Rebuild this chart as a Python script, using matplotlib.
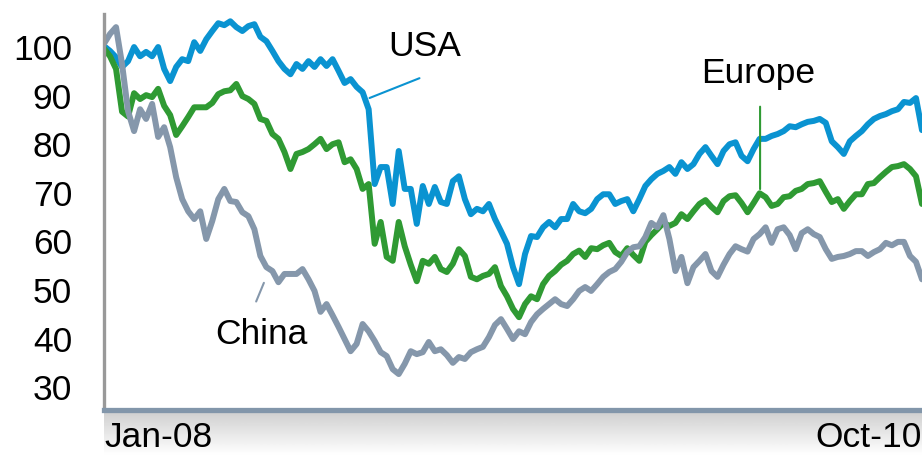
import numpy as np
import matplotlib
matplotlib.use("Agg")
import matplotlib.pyplot as plt

# indexed performance, Jan-08 = 100 (one value every ~1/4 month)
usa = [100.0, 99.0, 97.7, 95.7, 96.9, 99.8, 97.9, 98.8, 97.9, 99.8,
       95.3, 92.8, 95.7, 97.3, 96.9, 100.8, 99.0, 101.4, 103.1, 104.7,
       104.3, 105.1, 103.9, 103.1, 104.1, 104.5, 101.9, 101.0, 99.0, 96.9,
       95.3, 94.2, 96.3, 95.3, 96.9, 95.7, 97.3, 95.9, 97.3, 94.9,
       92.4, 93.2, 91.6, 90.5, 87.0, 71.6, 75.1, 75.1, 67.5, 78.4,
       70.6, 70.6, 63.4, 71.2, 67.5, 71.0, 67.9, 67.5, 72.2, 73.2,
       68.5, 65.4, 66.5, 66.0, 67.5, 64.4, 61.9, 59.3, 54.5, 51.0,
       57.2, 60.9, 60.7, 62.7, 63.8, 62.7, 64.4, 64.4, 67.5, 66.0,
       65.6, 66.5, 68.5, 69.5, 69.5, 67.5, 68.1, 68.5, 66.0, 68.5,
       71.2, 72.6, 73.7, 74.3, 75.1, 73.7, 76.1, 74.7, 75.7, 77.8,
       79.2, 77.4, 75.7, 78.4, 79.8, 80.2, 77.4, 76.3, 78.8, 80.9,
       80.9, 81.5, 81.9, 82.5, 83.5, 83.3, 83.9, 84.4, 84.6, 85.0,
       84.2, 80.4, 79.2, 77.8, 80.4, 81.5, 82.5, 83.9, 85.0, 85.6,
       86.0, 86.6, 87.0, 88.5, 88.3, 89.3, 82.7]

europe = [99.5, 97.9, 95.3, 86.5, 85.5, 90.3, 89.1, 89.9, 89.5, 91.2,
          87.7, 85.8, 81.7, 83.5, 85.4, 87.4, 87.4, 87.4, 88.3, 90.1,
          90.7, 90.9, 92.2, 89.7, 89.1, 88.1, 85.0, 84.6, 81.9, 80.9,
          78.2, 74.7, 77.8, 78.2, 78.8, 79.8, 80.9, 78.8, 79.8, 80.2,
          76.1, 76.7, 74.7, 70.6, 71.6, 59.3, 63.8, 56.6, 55.8, 63.8,
          58.8, 55.0, 51.6, 55.8, 55.2, 56.6, 54.1, 53.5, 55.2, 58.2,
          56.8, 52.5, 52.0, 52.7, 53.1, 54.5, 50.6, 48.5, 45.9, 44.2,
          46.9, 48.5, 47.9, 51.0, 52.7, 53.7, 55.0, 55.8, 57.2, 57.9,
          56.6, 58.4, 58.2, 59.0, 59.5, 57.6, 56.8, 58.4, 57.0, 55.8,
          59.7, 61.1, 62.3, 63.6, 63.0, 63.6, 65.4, 64.4, 66.0, 67.5,
          68.3, 66.9, 65.8, 68.1, 69.1, 69.3, 67.7, 65.8, 67.7, 69.7,
          68.9, 67.1, 67.5, 68.9, 69.1, 70.2, 70.6, 71.6, 71.8, 72.2,
          70.0, 67.9, 68.5, 66.5, 68.1, 69.5, 69.5, 71.6, 71.8, 73.0,
          74.1, 75.1, 75.3, 75.7, 74.7, 73.2, 67.5]

china = [100.5, 102.5, 103.9, 96.3, 86.6, 82.5, 87.0, 85.0, 88.1, 81.3,
         83.3, 79.2, 73.0, 68.5, 66.0, 64.4, 66.0, 60.3, 64.0, 68.5,
         70.6, 68.1, 67.9, 65.8, 65.0, 62.3, 56.8, 54.5, 53.7, 51.4,
         53.1, 53.1, 53.1, 54.1, 52.0, 49.6, 45.3, 46.9, 44.6, 42.2,
         39.7, 37.2, 38.7, 42.8, 41.3, 39.3, 37.0, 36.2, 33.5, 32.5,
         34.6, 37.2, 36.6, 37.0, 39.1, 37.2, 37.6, 36.4, 34.8, 36.0,
         35.6, 37.0, 37.6, 38.1, 40.1, 42.6, 43.8, 41.8, 39.7, 41.3,
         40.7, 43.2, 44.8, 45.9, 46.9, 47.9, 46.9, 46.5, 47.9, 49.6,
         50.4, 49.6, 51.0, 52.5, 53.5, 54.1, 55.6, 57.6, 58.6, 58.8,
         60.7, 63.6, 62.7, 65.2, 60.3, 53.7, 56.6, 51.2, 54.5, 55.8,
         57.2, 53.7, 52.5, 55.0, 57.2, 58.8, 58.2, 57.7, 60.3, 61.3,
         62.7, 59.5, 62.3, 62.7, 61.1, 58.2, 61.5, 62.3, 61.3, 60.7,
         58.2, 56.2, 56.6, 56.8, 57.2, 57.8, 57.8, 56.8, 57.6, 58.2,
         59.5, 59.0, 59.7, 59.7, 56.8, 55.6, 52.0]

series = [("USA", usa, "#0a93d1"), ("Europe", europe, "#2f9a33"), ("China", china, "#8597ab")]

# months since Jan-08, Oct-10 ends at 34
MONTHS = 34.0
xtick_pos = [0, MONTHS]
xtick_labels = ["Jan-08", "Oct-10"]
yticks = [30, 40, 50, 60, 70, 80, 90, 100]

plt.rcParams['font.family'] = ['Liberation Sans', 'DejaVu Sans']
FS = 25.5

fig = plt.figure(figsize=(9.22, 4.56), dpi=100)

# soft grey shadow under the x axis
bax = fig.add_axes([104/922, 0, 818/922, 42/456])
grad = np.linspace(0.82, 1.0, 100).reshape(-1, 1)
bax.imshow(grad, cmap="gray", vmin=0, vmax=1, aspect="auto", extent=[0, 1, 0, 1])
bax.set_axis_off()
bax.set_zorder(0)

ax = fig.add_axes([104/922, 1 - 411/456, 818/922, (411 - 15)/456])
ax.set_zorder(1)

for name, vals, col in series:
    x = np.linspace(0, MONTHS, len(vals))
    ax.plot(x, vals, color=col, lw=4.3, solid_joinstyle="round", solid_capstyle="round")

ax.set_xlim(0, MONTHS)
ax.set_ylim(25.1, 106.6)

for s in ["top", "right"]:
    ax.spines[s].set_visible(False)
ax.spines["left"].set_color("#999999")
ax.spines["left"].set_linewidth(2.4)
ax.spines["bottom"].set_color("#8296aa")
ax.spines["bottom"].set_linewidth(3.8)

ax.set_yticks(yticks)
ax.set_yticklabels([str(v) for v in yticks], fontsize=FS)
ax.tick_params(axis="y", length=0, pad=23)
ax.set_xticks(xtick_pos)
ax.set_xticklabels(xtick_labels, fontsize=FS)
ax.tick_params(axis="x", length=0, pad=7)
lbls = ax.get_xticklabels()
lbls[0].set_ha("left")
lbls[1].set_ha("right")

# series labels with leader lines
ax.annotate("", xy=(10.93, 89.1), xytext=(13.22, 93.6),
            arrowprops=dict(arrowstyle="-", color="#0a93d1", lw=1.5))
ax.text(13.34, 100.2, "USA", fontsize=FS, ha="center", va="center")
ax.annotate("", xy=(27.27, 70.0), xytext=(27.27, 88.1),
            arrowprops=dict(arrowstyle="-", color="#2f9a33", lw=1.5))
ax.text(27.18, 94.6, "Europe", fontsize=FS, ha="center", va="center")
ax.annotate("", xy=(6.69, 51.8), xytext=(6.28, 46.9),
            arrowprops=dict(arrowstyle="-", color="#8597ab", lw=1.5))
ax.text(6.53, 40.9, "China", fontsize=FS, ha="center", va="center")

fig.savefig("out.png", dpi=100)
